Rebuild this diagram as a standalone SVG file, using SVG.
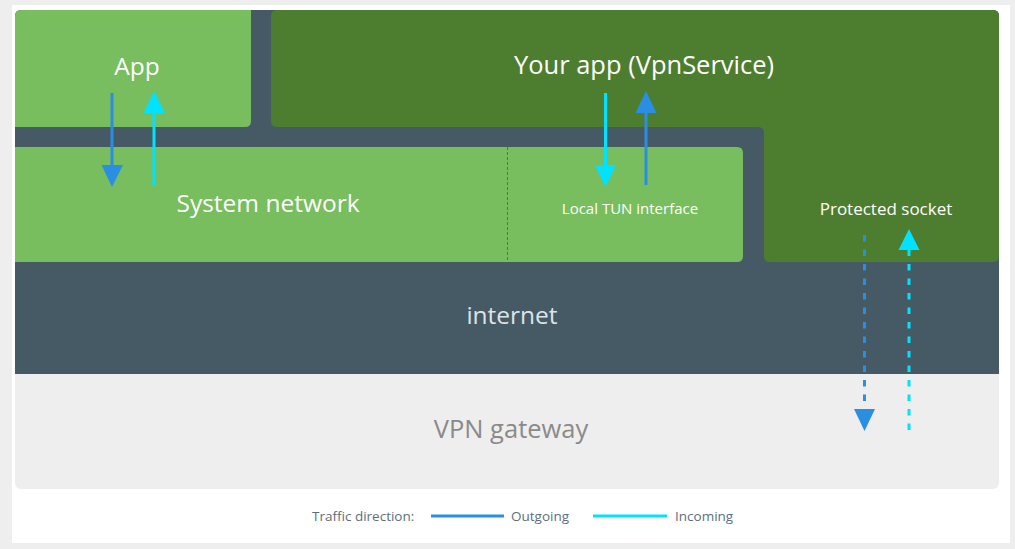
<svg xmlns="http://www.w3.org/2000/svg" width="1015" height="549" viewBox="0 0 1015 549">
<style>
.lbl{font-family:"Open Sans","Noto Sans","Liberation Sans",sans-serif;fill:#ffffff;text-anchor:middle}
.big{font-size:24.5px}
.sm{font-size:15px}
.leg{font-family:"Open Sans","Noto Sans","Liberation Sans",sans-serif;font-size:13.5px;fill:#5d6f7c}
.out{stroke:#2a8fe2;stroke-width:3;fill:none}
.inc{stroke:#00e2ff;stroke-width:3;fill:none}
.dash{stroke-dasharray:6.5 8}
.hout{fill:#2a8fe2}
.hinc{fill:#00e2ff}
</style>
<rect x="0" y="0" width="1015" height="549" fill="#eeeeee"/>
<rect x="12" y="5" width="998" height="538" fill="#ffffff"/>
<g id="vpn-gateway">
<rect x="15" y="10" width="984" height="479" rx="6" fill="#eeeeee"/>
<text class="lbl big" x="511" y="438" style="fill:#8a8a8a;font-size:25.5px">VPN gateway</text>
</g>
<g id="internet">
<path d="M21,10 H993 Q999,10 999,16 V374 H15 V16 Q15,10 21,10 Z" fill="#465a65"/>
<text class="lbl big" x="512" y="324" style="fill:#dde3e7">internet</text>
</g>
<g id="app">
<path d="M21,10 H251 V121 Q251,127 245,127 H15 V16 Q15,10 21,10 Z" fill="#78bd5e"/>
<text class="lbl big" x="137" y="75">App</text>
</g>
<g id="your-app">
<path d="M277,10 H993 Q999,10 999,16 V256 Q999,262 993,262 H770 Q764,262 764,256 V133 Q764,127 758,127 H277 Q271,127 271,121 V16 Q271,10 277,10 Z" fill="#4d7d2f"/>
<text class="lbl big" x="644" y="74" style="font-size:25.5px">Your app (VpnService)</text>
<text class="lbl sm" x="886" y="215" style="font-size:17px">Protected socket</text>
</g>
<g id="system-network">
<path d="M15,147 H737 Q743,147 743,153 V256 Q743,262 737,262 H15 Z" fill="#78bd5e"/>
<line x1="507.5" y1="147" x2="507.5" y2="262" stroke="#4d7d2f" stroke-width="1" stroke-dasharray="3 2"/>
<text class="lbl big" x="268" y="212">System network</text>
<text class="lbl sm" x="630" y="214">Local TUN interface</text>
</g>
<g id="connectors">
<line class="out" x1="112" y1="93" x2="112" y2="166"/>
<polygon class="hout" points="101.5,165 123,165 112,187"/>
<line class="inc" x1="154" y1="185" x2="154" y2="112"/>
<polygon class="hinc" points="143.5,113 165,113 154,91"/>
<line class="inc" x1="605.5" y1="93" x2="605.5" y2="166"/>
<polygon class="hinc" points="595,165 616,165 605.5,187"/>
<line class="out" x1="646" y1="185" x2="646" y2="112"/>
<polygon class="hout" points="635.5,113 656.5,113 646,91"/>
<line class="out dash" x1="864.5" y1="235" x2="864.5" y2="408"/>
<polygon class="hout" points="854,409 875,409 864.5,431"/>
<line class="inc dash" x1="909" y1="430" x2="909" y2="250"/>
<polygon class="hinc" points="898.5,250 919.5,250 909,229"/>
</g>
<g id="legend">
<text class="leg" x="312" y="521">Traffic direction:</text>
<line x1="431" y1="516" x2="504" y2="516" stroke="#2a8fe2" stroke-width="3"/>
<text class="leg" x="511" y="521">Outgoing</text>
<line x1="593" y1="516" x2="667" y2="516" stroke="#00e2ff" stroke-width="3"/>
<text class="leg" x="675" y="521">Incoming</text>
</g>
</svg>
